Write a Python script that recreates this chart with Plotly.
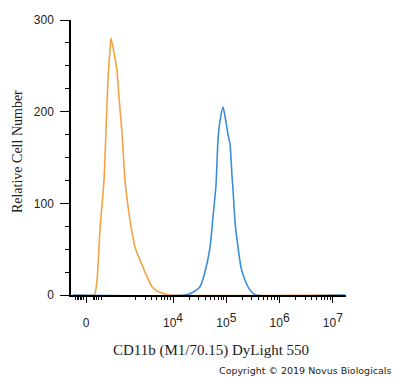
import math
import plotly.graph_objects as go

# Display-scale positions (decade units on a logicle-like axis: 4 -> 10^4, 5 -> 10^5 ...)
isotype_x = [2.124, 2.518, 2.537, 2.574, 2.630, 2.705, 2.743, 2.780, 2.818, 2.837,
             2.874, 2.912, 2.949, 2.987, 3.043, 3.099, 3.174, 3.231, 3.287, 3.381,
             3.418, 3.475, 3.512, 3.606, 3.681, 3.756, 3.850, 3.944, 7.133]
isotype_y = [0, 0, 2, 16, 71, 125, 180, 235, 268, 280,
             270, 258, 245, 215, 177, 125, 89, 68, 52, 38,
             33, 25, 20, 9, 5, 3, 1, 0, 0]

cd11b_x = [2.124, 4.225, 4.375, 4.507, 4.600, 4.694, 4.750, 4.807, 4.844, 4.882,
           4.938, 4.976, 5.032, 5.069, 5.107, 5.126, 5.163, 5.220, 5.276, 5.351,
           5.426, 5.482, 5.557, 7.227]
cd11b_y = [0, 0, 3, 9, 25, 52, 85, 120, 169, 190,
           205, 195, 175, 165, 130, 115, 80, 52, 30, 16,
           7, 3, 0, 0]

x_tickvals = [2.368, 4, 5, 6, 7]
x_exponents = ["", "4", "5", "6", "7"]
x_ticktext = ["0"] + ["10<sup><span style='font-size:12px'>%s</span></sup>" % e
                      for e in x_exponents[1:]]
x_minor = ([2.17, 2.2, 2.23, 2.26, 2.29, 2.32, 2.5, 2.53, 2.57, 2.61, 2.66]
           + [3 + math.log10(k) for k in range(2, 10)]
           + [d + math.log10(k) for d in (4, 5, 6) for k in range(2, 10)])

y_tickvals = [0, 100, 200, 300]

fig = go.Figure()
fig.add_trace(go.Scatter(x=isotype_x, y=isotype_y, mode="lines",
                         line=dict(color="#f2a445", width=1.6, shape="spline", smoothing=0.6),
                         showlegend=False))
fig.add_trace(go.Scatter(x=cd11b_x, y=cd11b_y, mode="lines",
                         line=dict(color="#3b8fd8", width=1.6, shape="spline", smoothing=0.6),
                         showlegend=False))

fig.update_layout(
    width=400, height=378,
    margin=dict(l=71, r=54, t=20, b=83),
    paper_bgcolor="white", plot_bgcolor="white",
    font=dict(family="Liberation Sans", size=12, color="#222"),
    xaxis=dict(range=[2.086, 7.246], showgrid=False, zeroline=False,
               showline=True, linecolor="black", linewidth=1.5,
               ticks="outside", ticklen=6, tickcolor="black", tickwidth=1,
               tickmode="array", tickvals=x_tickvals, ticktext=x_ticktext,
               ticklabelstandoff=10,
               minor=dict(tickmode="array", tickvals=x_minor, ticks="outside",
                          ticklen=3, tickcolor="black", tickwidth=1)),
    yaxis=dict(range=[0, 300], showgrid=False, zeroline=False,
               showline=True, linecolor="black", linewidth=1.5,
               ticks="outside", ticklen=9, tickcolor="black", tickwidth=1,
               tickmode="array", tickvals=y_tickvals,
               ticklabelstandoff=4,
               minor=dict(dtick=25, ticks="outside", ticklen=4,
                          tickcolor="black", tickwidth=1)),
    annotations=[
        dict(text="Relative Cell Number", xref="paper", yref="paper",
             x=-0.196, y=0.52, xanchor="center", yanchor="middle",
             textangle=-90, showarrow=False,
             font=dict(family="Liberation Serif", size=14, color="#222")),
        dict(text="CD11b (M1/70.15) DyLight 550", xref="paper", yref="paper",
             x=0.509, y=-0.2, xanchor="center", yanchor="middle", showarrow=False,
             font=dict(family="Liberation Serif", size=15, color="#222")),
        dict(text="Copyright © 2019 Novus Biologicals", xref="paper", yref="paper",
             x=1.171, y=-0.276, xanchor="right", yanchor="middle", showarrow=False,
             font=dict(family="DejaVu Sans", size=9.5, color="#222")),
    ],
)

fig.write_html("out.html")
